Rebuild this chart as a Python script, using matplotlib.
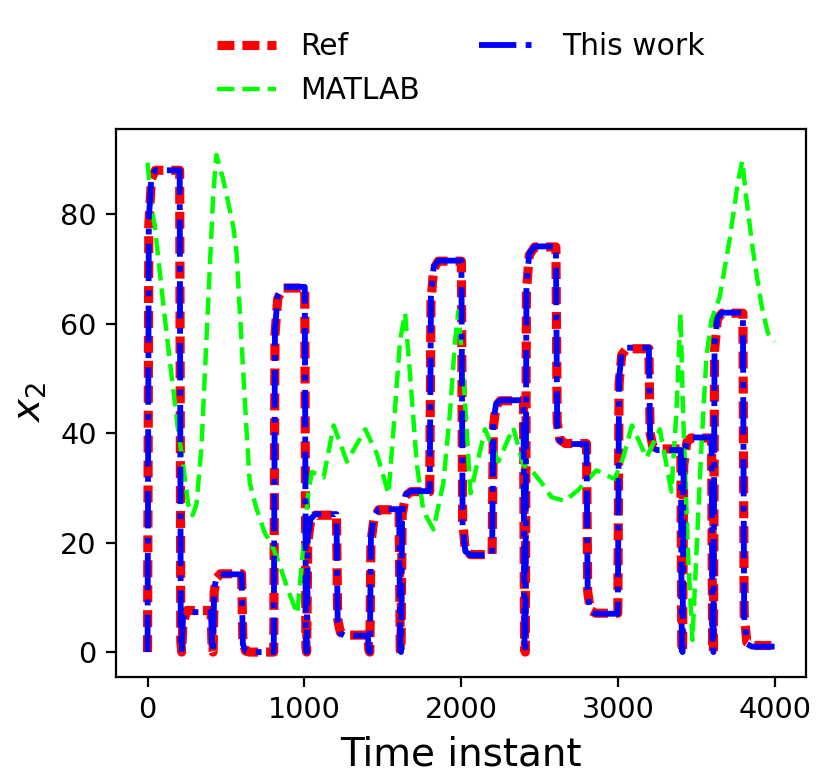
import numpy as np
import matplotlib.pyplot as plt

# vertices (time instant, x2)
ref_t = [0, 8, 25, 50, 205,
         212, 218, 225, 250, 405,
         412, 418, 425, 440, 465, 600,
         608, 625, 650, 805,
         813, 830, 860, 1003,
         1010, 1015, 1022, 1040, 1070, 1205,
         1213, 1230, 1260, 1405,
         1412, 1418, 1425, 1445, 1475, 1605,
         1612, 1617, 1624, 1645, 1680, 1800,
         1808, 1825, 1855, 2002,
         2010, 2027, 2060, 2198,
         2206, 2223, 2250, 2398,
         2405, 2410, 2417, 2435, 2470, 2605,
         2613, 2630, 2665, 2800,
         2808, 2825, 2860, 3000,
         3008, 3025, 3055, 3198,
         3206, 3223, 3250, 3402,
         3408, 3413, 3420, 3440, 3465, 3598,
         3605, 3610, 3617, 3635, 3665, 3798,
         3806, 3823, 3855, 4000]

ref_x2 = [0, 78, 86.5, 88, 88,
          2, 0, 5, 7.6, 7.6,
          0.5, 0, 11, 13.5, 14.3, 14.3,
          2, 0.2, 0, 0,
          58, 64.5, 66.5, 66.5,
          1, 0, 20, 24, 25, 25,
          6, 3.6, 3.1, 3.1,
          0.3, 0, 20, 24.5, 26, 26,
          0.3, 0, 25, 28.5, 29.3, 29.3,
          64, 70, 71.4, 71.4,
          24, 18.6, 17.8, 17.8,
          41, 45, 45.9, 45.9,
          0.5, 0, 66, 72.5, 74, 74,
          42, 38.8, 38.1, 38.1,
          11, 7.6, 7.1, 7.1,
          49, 54.3, 55.4, 55.4,
          40, 37.6, 37.1, 37.1,
          0.5, 0, 34, 38.3, 39.1, 39.1,
          0.5, 0, 55, 60.8, 61.9, 61.9,
          7, 1.8, 1.2, 1.2]

work_x2 = [0, 79, 87, 88, 88,
           1.5, 0, 6, 7.3, 7.3,
           0.5, 0, 11.5, 13.7, 14.2, 14.2,
           1.5, 0.2, 0, 0,
           59, 65, 66.7, 66.7,
           1, 0, 21, 24.3, 25.2, 25.2,
           5.5, 3.4, 3.0, 3.0,
           0.3, 0, 21, 24.8, 26.1, 26.1,
           0.3, 0, 25.5, 28.7, 29.4, 29.4,
           65, 70.3, 71.5, 71.5,
           23, 18.4, 17.7, 17.7,
           42, 45.3, 46, 46,
           0.5, 0, 67, 72.8, 74.1, 74.1,
           41.5, 38.6, 38, 38,
           10.5, 7.4, 7.0, 7.0,
           50, 54.6, 55.6, 55.6,
           39.5, 37.3, 36.9, 36.9,
           0.3, 0, 35, 38.5, 39.2, 39.2,
           0.3, 0, 56, 61, 62, 62,
           6.5, 1.5, 1.0, 1.0]

matlab_t = [0, 25, 46, 100, 153, 195, 227, 259, 287, 312, 344, 365, 397,
            418, 439, 482, 546, 567, 599, 631, 652, 694, 747, 790, 843,
            896, 955, 1006, 1028, 1049, 1123, 1187, 1272, 1389, 1463, 1537,
            1569, 1611, 1643, 1675, 1718, 1760, 1824, 1887, 1930, 1962, 1983,
            2015, 2060, 2153, 2238, 2333, 2397, 2450, 2514, 2577, 2662, 2747,
            2864, 2980, 3034, 3090, 3183, 3268, 3342, 3374, 3400, 3416, 3448,
            3476, 3501, 3533, 3565, 3597, 3650, 3713, 3766, 3794, 3819, 3862,
            3915, 3957, 4000]

matlab_x2 = [89.4, 81.2, 77.9, 63.6, 50.5, 40.7, 34.2, 27, 25, 27, 37.4,
             50.5, 70.1, 83.1, 90.8, 86.4, 77.9, 73.3, 57, 40.7, 30.9, 26.3,
             21.8, 19.8, 15.9, 11.3, 7.0, 23, 29.6, 32.9, 31.9, 41.4, 34.8,
             40.7, 36.2, 28.9, 40.7, 57, 61.9, 50.5, 34.2, 25.7, 22.4, 30.9,
             44, 57, 62.3, 50.5, 29, 40.7, 34.8, 41.0, 34.2, 33.2, 30.9, 28.3,
             27.6, 29.6, 33.2, 31.6, 35.5, 41.4, 35.5, 40.7, 29.3, 44, 61.9,
             44, 17.8, 2.2, 17.8, 37.4, 53.8, 60.6, 64.9, 75.3, 85.8, 89.7,
             83.1, 73.3, 63.6, 58.3, 56.7]

plt.rcParams['font.size'] = 10

fig = plt.figure(figsize=(4.15, 3.92), dpi=200)
ax = fig.add_axes([0.14, 0.1365, 0.831, 0.699])

ax.plot(ref_t, ref_x2, color='red', lw=3.3, dashes=(1.85, 0.87), label='Ref')
ax.plot(matlab_t, matlab_x2, color='#00ff00', lw=1.6, dashes=(3.9, 1.8), label='MATLAB')
ax.plot(ref_t, work_x2, color='blue', lw=2.1, linestyle='-.', label='This work')

ax.set_xlim(-200, 4200)
ax.set_ylim(-4.55, 95.55)
ax.set_xticks([0, 1000, 2000, 3000, 4000])
ax.set_yticks([0, 20, 40, 60, 80])
ax.tick_params(labelsize=10.3)
ax.set_xlabel('Time instant', fontsize=14)
ax.set_ylabel(r'$x_2$', fontsize=14)

ax.legend(loc='lower center', bbox_to_anchor=(0.5, 0.995), ncol=2, frameon=False,
          fontsize=10.7)

fig.savefig('out.png', dpi=200)
